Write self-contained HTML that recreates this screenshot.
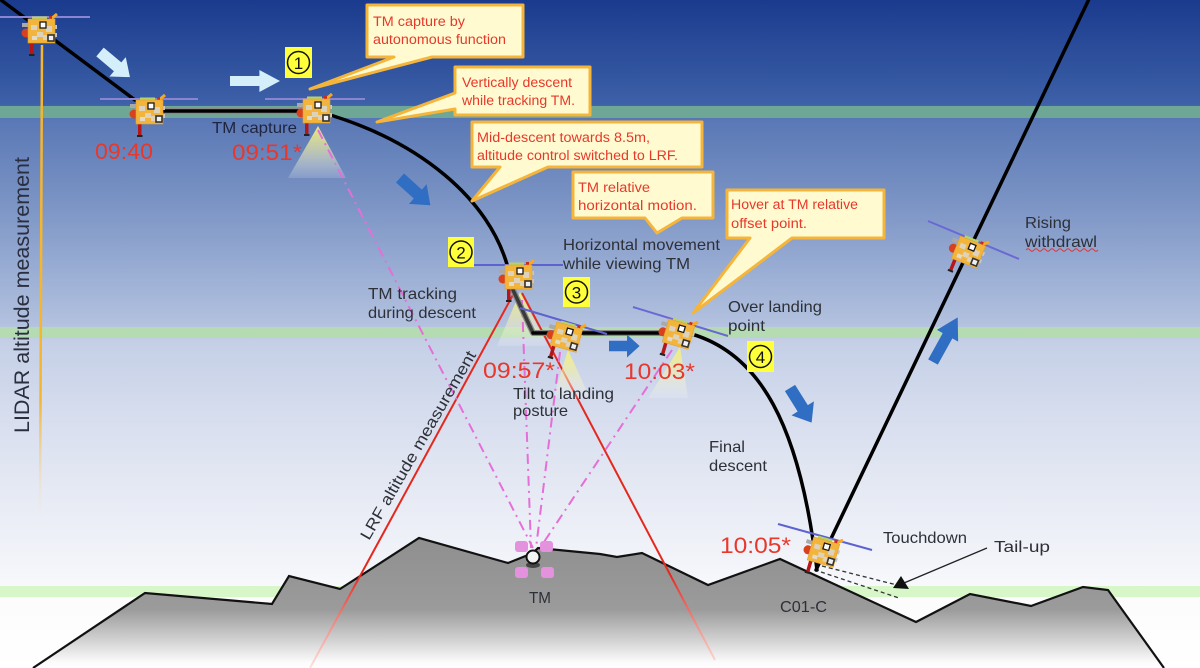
<!DOCTYPE html>
<html><head><meta charset="utf-8"><style>html,body{margin:0;padding:0;width:1200px;height:668px;overflow:hidden;background:#fff}</style></head>
<body>
<svg width="1200" height="668" viewBox="0 0 1200 668" xmlns="http://www.w3.org/2000/svg" xmlns:xlink="http://www.w3.org/1999/xlink" font-family="'Liberation Sans', Arial, sans-serif">
<defs>
  <linearGradient id="sky" x1="0" y1="0" x2="0" y2="668" gradientUnits="userSpaceOnUse">
    <stop offset="0" stop-color="#1a3b8d"/>
    <stop offset="0.155" stop-color="#3d60a8"/>
    <stop offset="0.18" stop-color="#5a78b6"/>
    <stop offset="0.3" stop-color="#7a93c4"/>
    <stop offset="0.4" stop-color="#98acd3"/>
    <stop offset="0.485" stop-color="#b2c1de"/>
    <stop offset="0.51" stop-color="#c4cfe6"/>
    <stop offset="0.62" stop-color="#d6ddee"/>
    <stop offset="0.72" stop-color="#e4e8f3"/>
    <stop offset="0.85" stop-color="#f3f5fa"/>
    <stop offset="0.9" stop-color="#fcfcfd"/>
    <stop offset="1" stop-color="#ffffff"/>
  </linearGradient>
  <linearGradient id="rock" x1="0" y1="538" x2="0" y2="668" gradientUnits="userSpaceOnUse">
    <stop offset="0" stop-color="#8f8f8f"/>
    <stop offset="0.55" stop-color="#9b9b9b"/>
    <stop offset="0.8" stop-color="#d5d5d5"/>
    <stop offset="0.95" stop-color="#fafafa"/>
    <stop offset="1" stop-color="#ffffff"/>
  </linearGradient>
  <linearGradient id="redfade" x1="0" y1="293" x2="0" y2="668" gradientUnits="userSpaceOnUse">
    <stop offset="0" stop-color="#e5281e"/>
    <stop offset="0.75" stop-color="#e5281e"/>
    <stop offset="1" stop-color="#fde3de"/>
  </linearGradient>
  <linearGradient id="orfade" x1="0" y1="45" x2="0" y2="520" gradientUnits="userSpaceOnUse">
    <stop offset="0" stop-color="#f6b52e"/>
    <stop offset="0.75" stop-color="#f6b52e"/>
    <stop offset="1" stop-color="#f6e6c6" stop-opacity="0"/>
  </linearGradient>
  <linearGradient id="cone" x1="0" y1="0" x2="0" y2="1">
    <stop offset="0" stop-color="#f4f070" stop-opacity="0.95"/>
    <stop offset="0.5" stop-color="#f3f0b0" stop-opacity="0.6"/>
    <stop offset="1" stop-color="#ffffff" stop-opacity="0.15"/>
  </linearGradient>
  <g id="sc">
    <rect x="-19" y="-8" width="7" height="4" fill="#a9a9a9"/>
    <rect x="13" y="-6" width="3" height="4" fill="#c8c8c8"/>
    <rect x="13" y="2" width="3" height="4" fill="#c8c8c8"/>
    <rect x="-9" y="-14.5" width="15" height="2.5" fill="#b6d36a"/>
    <line x1="10" y1="-12" x2="16" y2="-17" stroke="#f6a820" stroke-width="3"/>
    <rect x="8" y="-15" width="3" height="3" fill="#cc2a1a"/>
    <circle cx="-15" cy="2" r="4.5" fill="#d8401e"/>
    <rect x="-11" y="12" width="3.5" height="12" fill="#b3171a"/>
    <rect x="-12" y="23" width="5.5" height="2" fill="#222"/>
    <rect x="-13" y="-12" width="27" height="24" fill="#f3b43b" stroke="#e0a030" stroke-width="0.6"/>
    <rect x="-10" y="-6" width="6" height="5" fill="#ddd3bd"/>
    <rect x="-4" y="1" width="6" height="5" fill="#ddd3bd"/>
    <rect x="5" y="-5" width="6" height="6" fill="#ddd3bd"/>
    <rect x="-9" y="5" width="5" height="4" fill="#e3dac8"/>
    <rect x="2" y="4" width="4" height="5" fill="#ddd3bd"/>
    <rect x="-1" y="-9" width="6" height="6" fill="#fff" stroke="#1a1a1a" stroke-width="1.3"/>
    <rect x="7" y="4" width="6" height="6" fill="#f0f0f0" stroke="#333" stroke-width="1.6"/>
  </g>
  <path id="arw" d="M0,-5 H20 V-11 L34,0 L20,11 V5 H0 Z"/>
</defs>

<!-- background -->
<rect x="0" y="0" width="1200" height="668" fill="url(#sky)"/>
<rect x="0" y="106" width="1200" height="12" fill="#6fa797"/>
<rect x="0" y="327" width="1200" height="11" fill="#b4dbb2"/>
<rect x="0" y="586" width="1200" height="11" fill="#d8f7c8"/>

<!-- terrain -->
<polygon points="33,668 145,593 272,604 289,576 340,589 419,538 508,563 533,553 538,548 600,554 617,557 642,553 708,585 780,559 916,622 970,594 1031,606 1083,587 1108,590 1164,668" fill="url(#rock)"/>
<polyline points="33,668 145,593 272,604 289,576 340,589 419,538 508,563 533,553 538,548 600,554 617,557 642,553 708,585 780,559 916,622 970,594 1031,606 1083,587 1108,590 1164,668" fill="none" stroke="#111" stroke-width="2.2" stroke-linejoin="miter"/>

<!-- LIDAR line -->
<line x1="42" y1="45" x2="40" y2="520" stroke="url(#orfade)" stroke-width="2.5"/>

<!-- LRF red lines -->
<line x1="514" y1="293" x2="310" y2="668" stroke="url(#redfade)" stroke-width="2"/>
<line x1="522" y1="293" x2="715" y2="660" stroke="url(#redfade)" stroke-width="2"/>

<!-- cones -->
<polygon points="318,126 288,178 346,178" fill="url(#cone)"/>
<polygon points="520,292 497,346 548,346" fill="url(#cone)"/>
<polygon points="568,350 553,398 590,398" fill="url(#cone)"/>
<polygon points="680,347 648,398 688,398" fill="url(#cone)"/>

<!-- pink dash-dot lines -->
<g stroke="#e66ed8" stroke-width="2" stroke-dasharray="10 5 2 5" fill="none">
  <line x1="318" y1="130" x2="533" y2="548"/>
  <line x1="522" y1="300" x2="531" y2="548"/>
  <line x1="560" y1="352" x2="536" y2="548"/>
  <line x1="672" y1="350" x2="540" y2="548"/>
</g>

<!-- TM target -->
<g fill="#e592de">
  <rect x="515" y="541" width="13" height="11" rx="3"/>
  <rect x="540" y="541" width="13" height="11" rx="3"/>
  <rect x="515" y="567" width="13" height="11" rx="3"/>
  <rect x="541" y="567" width="13" height="11" rx="3"/>
</g>
<ellipse cx="533" cy="565" rx="7" ry="3" fill="#444"/>
<circle cx="533" cy="557" r="6.5" fill="#f4f4f4" stroke="#111" stroke-width="2"/>

<!-- trajectory -->
<g fill="none" stroke-linecap="round" stroke-linejoin="round">
  <line x1="-3" y1="-3" x2="135" y2="100" stroke="#000" stroke-width="3.5"/>
  <line x1="150" y1="111" x2="318" y2="111" stroke="#8a8a8a" stroke-width="6.5"/>
  <line x1="150" y1="111" x2="318" y2="111" stroke="#000" stroke-width="3.5"/>
  <path d="M320,112 C420,140 490,200 508,268" stroke="#000" stroke-width="3.5"/>
  <path d="M513,290 L533,333 H668" stroke="#8a8a8a" stroke-width="6"/>
  <path d="M513,290 L533,333" stroke="#3a3a3a" stroke-width="3.5"/>
  <path d="M533,333 H668" stroke="#000" stroke-width="3.5"/>
  <path d="M688,333 C760,352 800,425 817,570" stroke="#000" stroke-width="3.5"/>
  <line x1="816" y1="570" x2="1090" y2="-3" stroke="#000" stroke-width="3.5"/>
</g>

<!-- tail-up dashed -->
<g stroke="#333" stroke-width="1.3" stroke-dasharray="4 3" fill="none">
  <line x1="822" y1="566" x2="897" y2="585"/>
  <line x1="821" y1="572" x2="899" y2="598"/>
</g>
<line x1="987" y1="548" x2="904" y2="583" stroke="#222" stroke-width="1.3"/>
<polygon points="893,588 909,589 901,576" fill="#111"/>

<!-- solar/attitude lines -->
<g stroke-width="2">
  <line x1="0" y1="17" x2="90" y2="17" stroke="#8a84d2"/>
  <line x1="100" y1="99" x2="198" y2="99" stroke="#8a84d2"/>
  <line x1="265" y1="99" x2="365" y2="99" stroke="#8a84d2"/>
  <line x1="470" y1="265" x2="563" y2="265" stroke="#5d62d0"/>
  <line x1="520" y1="308" x2="607" y2="334" stroke="#5d62d0"/>
  <line x1="633" y1="307" x2="728" y2="336" stroke="#6a68d4"/>
  <line x1="778" y1="524" x2="872" y2="550" stroke="#5d62d0"/>
  <line x1="928" y1="221" x2="1019" y2="259" stroke="#6a68d4"/>
</g>

<!-- spacecraft -->
<use href="#sc" xlink:href="#sc" transform="translate(41,31)"/>
<use href="#sc" xlink:href="#sc" transform="translate(149,112)"/>
<use href="#sc" xlink:href="#sc" transform="translate(316,111)"/>
<use href="#sc" xlink:href="#sc" transform="translate(518,277)"/>
<use href="#sc" xlink:href="#sc" transform="translate(566,337) rotate(16)"/>
<use href="#sc" xlink:href="#sc" transform="translate(678,334) rotate(16)"/>
<use href="#sc" xlink:href="#sc" transform="translate(823,552) rotate(16)"/>
<use href="#sc" xlink:href="#sc" transform="translate(968,252) rotate(22)"/>

<!-- arrows -->
<use href="#arw" xlink:href="#arw" fill="#d4eefa" transform="translate(100,52) rotate(40) scale(1.15)"/>
<use href="#arw" xlink:href="#arw" fill="#d4eefa" transform="translate(230,81) scale(1.47,1)"/>
<use href="#arw" xlink:href="#arw" fill="#2f6ec2" transform="translate(400,178) rotate(42) scale(1.2)"/>
<use href="#arw" xlink:href="#arw" fill="#2f6ec2" transform="translate(609,346) scale(0.9,1.05)"/>
<use href="#arw" xlink:href="#arw" fill="#2f6ec2" transform="translate(790,388) rotate(58) scale(1.2)"/>
<use href="#arw" xlink:href="#arw" fill="#2f6ec2" transform="translate(933,362) rotate(-61) scale(1.5,1.1)"/>

<!-- callouts -->
<g fill="#fffad0" stroke="#f5b53a" stroke-width="3" stroke-linejoin="round">
  <path d="M367,5 H523 V57 H432 L310,89 L394,57 H367 Z"/>
  <path d="M455,67 H590 V115 H455 V109 L377,122 L455,93 Z"/>
  <path d="M472,122 H702 V167 H548 L472,201 L500,167 H472 Z"/>
  <path d="M573,172 H713 V218 H682 L657,233 L645,218 H573 Z"/>
  <path d="M727,190 H884 V238 H792 L693,313 L750,238 H727 Z"/>
</g>
<g fill="#e8382a" font-size="13.5">
  <text x="373" y="26" textLength="92" lengthAdjust="spacingAndGlyphs">TM capture by</text>
  <text x="373" y="44" textLength="133" lengthAdjust="spacingAndGlyphs">autonomous function</text>
  <text x="462" y="87" textLength="110" lengthAdjust="spacingAndGlyphs">Vertically descent</text>
  <text x="462" y="105" textLength="113" lengthAdjust="spacingAndGlyphs">while tracking TM.</text>
  <text x="477" y="142" textLength="173" lengthAdjust="spacingAndGlyphs">Mid-descent towards 8.5m,</text>
  <text x="477" y="160" textLength="201" lengthAdjust="spacingAndGlyphs">altitude control switched to LRF.</text>
  <text x="578" y="192" textLength="72" lengthAdjust="spacingAndGlyphs">TM relative</text>
  <text x="578" y="210" textLength="119" lengthAdjust="spacingAndGlyphs">horizontal motion.</text>
  <text x="731" y="209" textLength="127" lengthAdjust="spacingAndGlyphs">Hover at TM relative</text>
  <text x="731" y="228" textLength="76" lengthAdjust="spacingAndGlyphs">offset point.</text>
</g>

<!-- circled numbers -->
<g>
  <rect x="285" y="47" width="27" height="31" fill="#ffff3a"/>
  <circle cx="298.5" cy="62.5" r="11" fill="none" stroke="#111" stroke-width="1.5"/>
  <text x="298.5" y="69" font-size="17" text-anchor="middle" fill="#111">1</text>
  <rect x="448" y="237" width="26" height="30" fill="#ffff3a"/>
  <circle cx="461" cy="252" r="11" fill="none" stroke="#111" stroke-width="1.5"/>
  <text x="461" y="258.5" font-size="17" text-anchor="middle" fill="#111">2</text>
  <rect x="563" y="277" width="27" height="30" fill="#ffff3a"/>
  <circle cx="576.5" cy="292" r="11" fill="none" stroke="#111" stroke-width="1.5"/>
  <text x="576.5" y="298.5" font-size="17" text-anchor="middle" fill="#111">3</text>
  <rect x="747" y="341" width="27" height="31" fill="#ffff3a"/>
  <circle cx="760.5" cy="356.5" r="11" fill="none" stroke="#111" stroke-width="1.5"/>
  <text x="760.5" y="363" font-size="17" text-anchor="middle" fill="#111">4</text>
</g>

<!-- time labels -->
<g fill="#e8372b" font-size="22">
  <text x="95" y="159" textLength="58" lengthAdjust="spacingAndGlyphs">09:40</text>
  <text x="232" y="160" textLength="70" lengthAdjust="spacingAndGlyphs">09:51*</text>
  <text x="483" y="378" textLength="72" lengthAdjust="spacingAndGlyphs">09:57*</text>
  <text x="624" y="379" textLength="71" lengthAdjust="spacingAndGlyphs">10:03*</text>
  <text x="720" y="553" textLength="71" lengthAdjust="spacingAndGlyphs">10:05*</text>
</g>

<!-- black labels -->
<g fill="#2e3038" font-size="16">
  <text x="212" y="133" textLength="85" lengthAdjust="spacingAndGlyphs" fill="#1f2540">TM capture</text>
  <text x="368" y="299" textLength="89" lengthAdjust="spacingAndGlyphs">TM tracking</text>
  <text x="368" y="318" textLength="108" lengthAdjust="spacingAndGlyphs">during descent</text>
  <text x="563" y="250" textLength="157" lengthAdjust="spacingAndGlyphs">Horizontal movement</text>
  <text x="563" y="269" textLength="127" lengthAdjust="spacingAndGlyphs">while viewing TM</text>
  <text x="728" y="312" textLength="94" lengthAdjust="spacingAndGlyphs">Over landing</text>
  <text x="728" y="331" textLength="37" lengthAdjust="spacingAndGlyphs">point</text>
  <text x="513" y="399" textLength="101" lengthAdjust="spacingAndGlyphs">Tilt to landing</text>
  <text x="513" y="416" textLength="55" lengthAdjust="spacingAndGlyphs">posture</text>
  <text x="709" y="452" textLength="36" lengthAdjust="spacingAndGlyphs">Final</text>
  <text x="709" y="471" textLength="58" lengthAdjust="spacingAndGlyphs">descent</text>
  <text x="1025" y="228" textLength="46" lengthAdjust="spacingAndGlyphs">Rising</text>
  <text x="1025" y="247" textLength="72" lengthAdjust="spacingAndGlyphs">withdrawl</text>
  <text x="883" y="543" textLength="84" lengthAdjust="spacingAndGlyphs">Touchdown</text>
  <text x="994" y="552" textLength="56" lengthAdjust="spacingAndGlyphs">Tail-up</text>
  <text x="780" y="612" textLength="47" lengthAdjust="spacingAndGlyphs">C01-C</text>
  <text x="529" y="603" textLength="22" lengthAdjust="spacingAndGlyphs">TM</text>
  <text transform="translate(29,433) rotate(-90)" font-size="21" textLength="276" lengthAdjust="spacingAndGlyphs" fill="#2a2f3f">LIDAR altitude measurement</text>
  <text transform="translate(369,541) rotate(-60)" font-size="16" textLength="215" lengthAdjust="spacingAndGlyphs">LRF altitude measurement</text>
</g>
<path d="M1026,250 q2,-2.5 4,0 t4,0 t4,0 t4,0 t4,0 t4,0 t4,0 t4,0 t4,0 t4,0 t4,0 t4,0 t4,0 t4,0 t4,0 t4,0 t4,0 t4,0" fill="none" stroke="#e03030" stroke-width="1"/>
</svg>
</body></html>
